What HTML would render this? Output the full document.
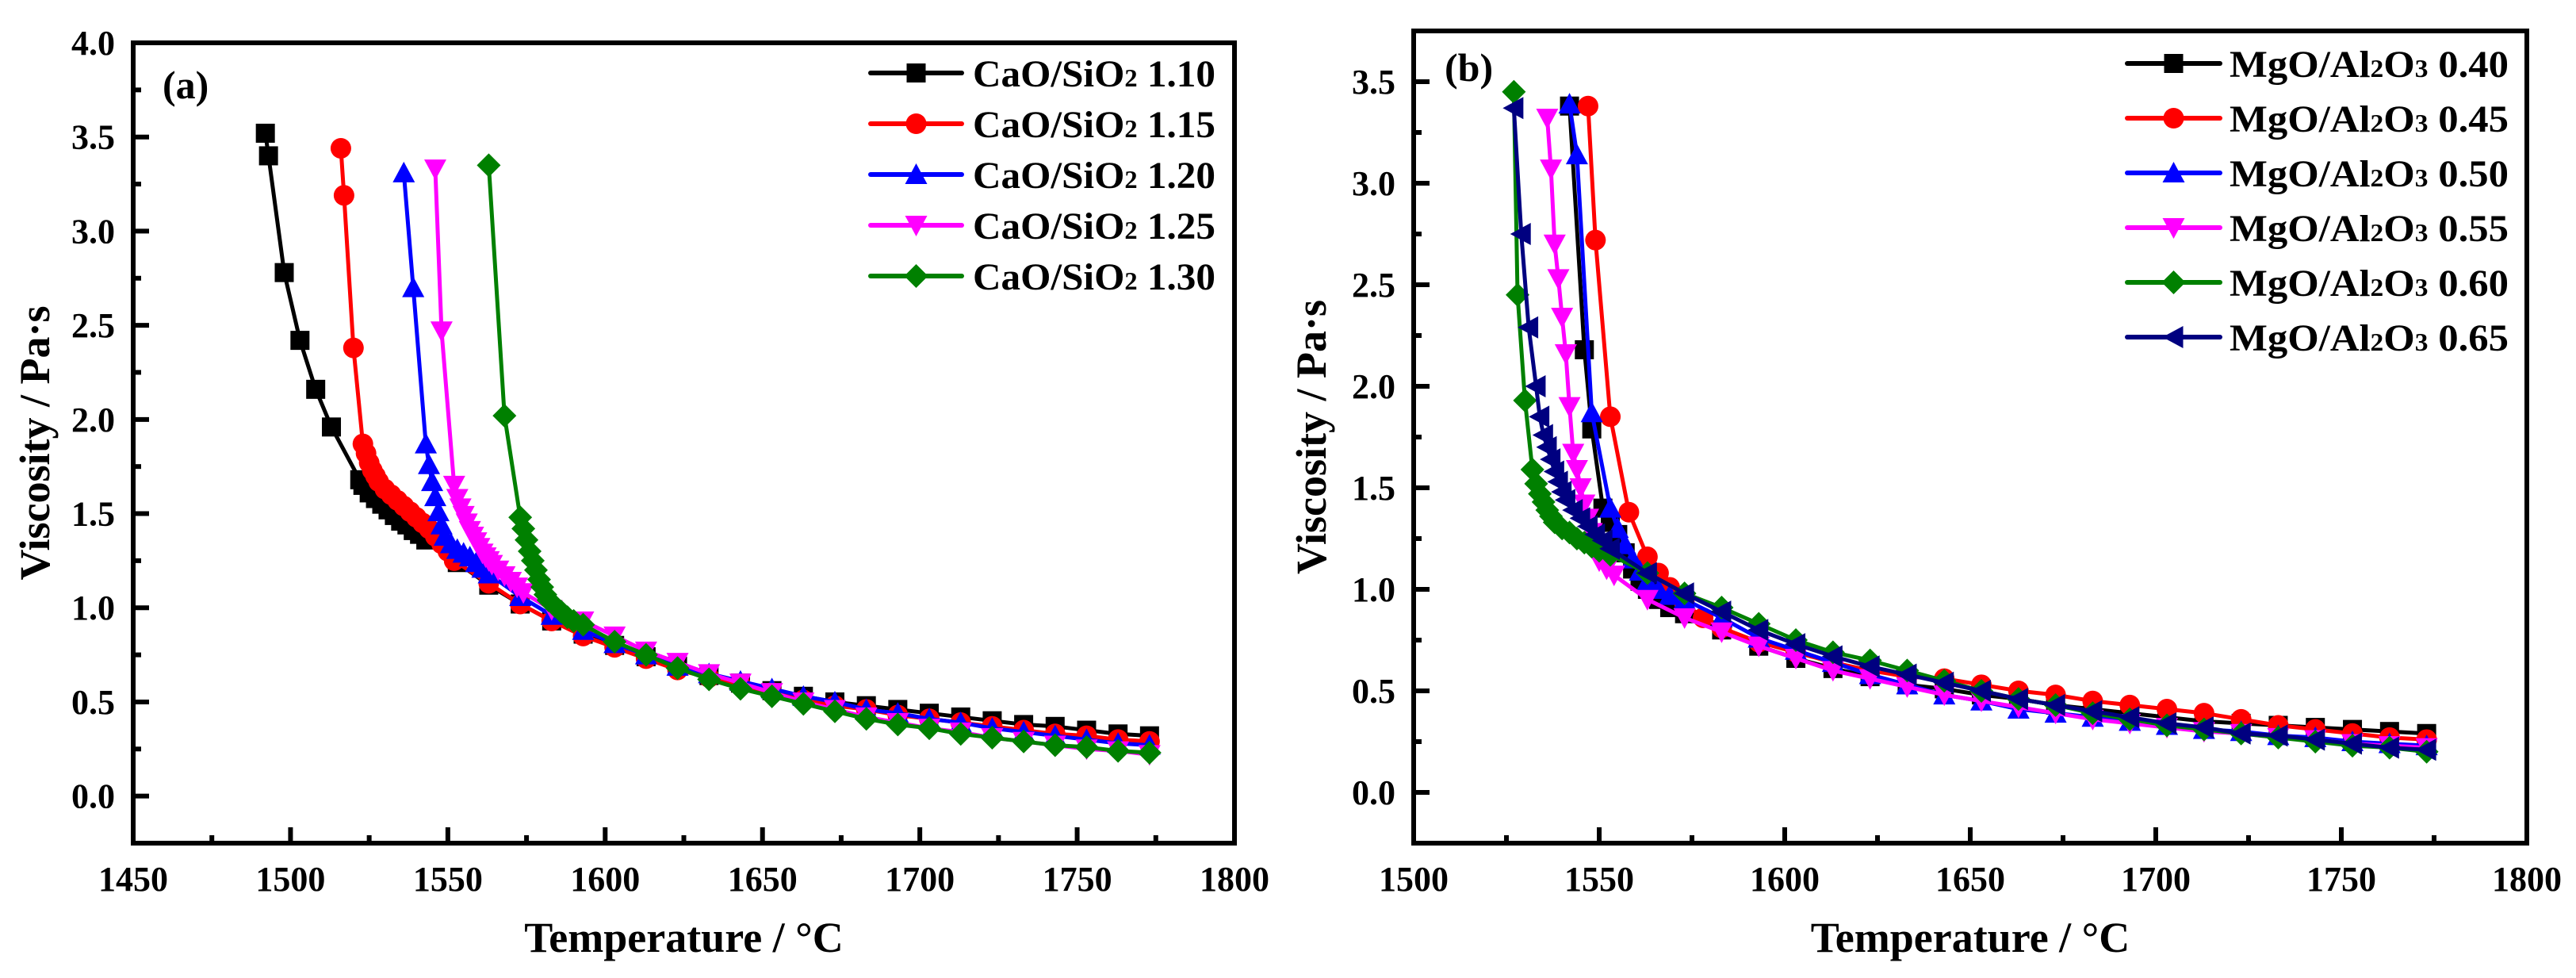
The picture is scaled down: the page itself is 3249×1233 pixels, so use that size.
<!DOCTYPE html>
<html><head><meta charset="utf-8"><style>
html,body{margin:0;padding:0;background:#fff;}
svg{display:block;font-family:"Liberation Serif",serif;font-weight:bold;}
</style></head><body>
<svg id="chart" width="3249" height="1233" viewBox="0 0 3249 1233" xmlns="http://www.w3.org/2000/svg"></svg>
<script>
// ---------- Panel (a) data: CaO/SiO2 ----------
const aLabels = ["CaO/SiO2 1.10","CaO/SiO2 1.15","CaO/SiO2 1.20","CaO/SiO2 1.25","CaO/SiO2 1.30"];
const aT110 = [1492,1493,1498,1503,1508,1513,1522,1523,1525,1527,1529,1531,1533,1535,1537,1539,1541,1543,1553,1563,1573,1583,1593,1603,1613,1623,1633,1643,1653,1663,1673,1683,1693,1703,1713,1723,1733,1743,1753,1763,1773];
const aV110 = [3.52,3.40,2.78,2.42,2.16,1.96,1.68,1.65,1.61,1.58,1.55,1.52,1.49,1.46,1.44,1.41,1.39,1.36,1.24,1.12,1.02,0.93,0.86,0.80,0.74,0.69,0.64,0.60,0.56,0.53,0.50,0.48,0.46,0.44,0.42,0.40,0.38,0.37,0.35,0.33,0.32];
const aT115 = [1516,1517,1520,1523,1524,1525,1526,1527,1528,1530,1532,1534,1536,1538,1540,1542,1544,1546,1548,1550,1552,1563,1573,1583,1593,1603,1613,1623,1633,1643,1653,1663,1673,1683,1693,1703,1713,1723,1733,1743,1753,1763,1773];
const aV115 = [3.44,3.19,2.38,1.87,1.82,1.77,1.73,1.70,1.67,1.63,1.60,1.57,1.54,1.51,1.48,1.45,1.42,1.38,1.34,1.30,1.25,1.13,1.02,0.93,0.85,0.79,0.73,0.67,0.63,0.59,0.55,0.51,0.48,0.46,0.43,0.41,0.39,0.37,0.35,0.33,0.32,0.30,0.29];
const aT120 = [1536,1539,1543,1544,1545,1546,1547,1548,1549,1551,1553,1555,1557,1559,1561,1563,1573,1583,1593,1603,1613,1623,1633,1643,1653,1663,1673,1683,1693,1703,1713,1723,1733,1743,1753,1763,1773];
const aV120 = [3.31,2.70,1.87,1.76,1.67,1.59,1.51,1.44,1.38,1.34,1.31,1.29,1.27,1.24,1.21,1.18,1.06,0.96,0.88,0.81,0.75,0.69,0.65,0.61,0.57,0.53,0.50,0.46,0.44,0.41,0.39,0.36,0.34,0.32,0.30,0.28,0.27];
const aT125 = [1546,1548,1552,1553,1554,1555,1556,1557,1558,1559,1560,1561,1562,1563,1564,1566,1568,1570,1572,1574,1583,1593,1603,1613,1623,1633,1643,1653,1663,1673,1683,1693,1703,1713,1723,1733,1743,1753,1763,1773];
const aV125 = [3.33,2.47,1.65,1.58,1.53,1.49,1.45,1.41,1.38,1.35,1.32,1.29,1.27,1.25,1.23,1.20,1.17,1.14,1.11,1.08,0.99,0.93,0.85,0.77,0.71,0.65,0.60,0.55,0.50,0.46,0.42,0.39,0.36,0.34,0.31,0.29,0.27,0.25,0.24,0.22];
const aT130 = [1563,1568,1573,1574,1575,1576,1577,1578,1579,1580,1581,1582,1584,1586,1588,1590,1593,1603,1613,1623,1633,1643,1653,1663,1673,1683,1693,1703,1713,1723,1733,1743,1753,1763,1773];
const aV130 = [3.35,2.02,1.48,1.42,1.36,1.30,1.25,1.20,1.15,1.11,1.07,1.04,1.01,0.98,0.95,0.93,0.91,0.82,0.75,0.68,0.62,0.57,0.53,0.49,0.45,0.41,0.38,0.36,0.33,0.31,0.29,0.27,0.26,0.24,0.23];

// ---------- Panel (b) data: MgO/Al2O3 ----------
const bLabels = ["MgO/Al2O3 0.40","MgO/Al2O3 0.45","MgO/Al2O3 0.50","MgO/Al2O3 0.55","MgO/Al2O3 0.60","MgO/Al2O3 0.65"];
const bT040 = [1542,1546,1548,1551,1553,1555,1557,1559,1561,1563,1566,1569,1573,1583,1593,1603,1613,1623,1633,1643,1653,1663,1673,1683,1693,1703,1713,1723,1733,1743,1753,1763,1773];
const bV040 = [3.38,2.18,1.79,1.40,1.33,1.27,1.18,1.10,1.04,1.00,0.95,0.91,0.88,0.80,0.72,0.66,0.61,0.57,0.53,0.51,0.48,0.46,0.43,0.41,0.39,0.37,0.35,0.34,0.33,0.32,0.31,0.30,0.29];
const bT045 = [1547,1549,1553,1558,1563,1566,1569,1573,1578,1583,1593,1603,1613,1623,1633,1643,1653,1663,1673,1683,1693,1703,1713,1723,1733,1743,1753,1763,1773];
const bV045 = [3.38,2.72,1.85,1.38,1.16,1.08,1.01,0.93,0.86,0.81,0.74,0.69,0.64,0.60,0.57,0.56,0.53,0.50,0.48,0.45,0.43,0.41,0.39,0.36,0.33,0.31,0.29,0.27,0.26];
const bT050 = [1542,1544,1548,1553,1555,1557,1559,1561,1563,1566,1569,1573,1583,1593,1603,1613,1623,1633,1643,1653,1663,1673,1683,1693,1703,1713,1723,1733,1743,1753,1763,1773];
const bV050 = [3.39,3.14,1.87,1.40,1.30,1.22,1.15,1.09,1.04,1.00,0.97,0.95,0.86,0.76,0.70,0.64,0.58,0.53,0.48,0.45,0.41,0.39,0.37,0.35,0.33,0.31,0.30,0.28,0.27,0.25,0.24,0.23];
const bT055 = [1536,1537,1538,1539,1540,1541,1542,1543,1544,1545,1546,1547,1548,1549,1550,1552,1554,1563,1573,1583,1593,1603,1613,1623,1633,1643,1653,1663,1673,1683,1693,1703,1713,1723,1733,1743,1753,1763,1773];
const bV055 = [3.32,3.07,2.70,2.53,2.34,2.16,1.90,1.67,1.59,1.50,1.42,1.35,1.28,1.20,1.14,1.10,1.07,0.95,0.86,0.79,0.72,0.66,0.60,0.56,0.52,0.48,0.45,0.42,0.39,0.36,0.34,0.32,0.30,0.29,0.27,0.26,0.24,0.23,0.22];
const bT060 = [1527,1528,1530,1532,1533,1534,1535,1536,1537,1538,1540,1542,1544,1546,1548,1550,1553,1563,1573,1583,1593,1603,1613,1623,1633,1643,1653,1663,1673,1683,1693,1703,1713,1723,1733,1743,1753,1763,1773];
const bV060 = [3.45,2.45,1.93,1.59,1.52,1.47,1.43,1.39,1.36,1.33,1.30,1.28,1.25,1.23,1.21,1.19,1.17,1.08,0.98,0.91,0.83,0.75,0.69,0.65,0.60,0.55,0.50,0.46,0.43,0.39,0.36,0.33,0.31,0.29,0.27,0.25,0.23,0.22,0.20];
const bT065 = [1527,1529,1531,1533,1534,1535,1536,1537,1538,1539,1540,1541,1543,1545,1547,1549,1551,1553,1563,1573,1583,1593,1603,1613,1623,1633,1643,1653,1663,1673,1683,1693,1703,1713,1723,1733,1743,1753,1763,1773];
const bV065 = [3.37,2.75,2.29,2.00,1.85,1.76,1.70,1.64,1.58,1.53,1.48,1.44,1.39,1.35,1.31,1.27,1.24,1.20,1.08,0.98,0.89,0.80,0.73,0.67,0.62,0.58,0.54,0.50,0.46,0.43,0.40,0.37,0.34,0.32,0.29,0.28,0.26,0.24,0.22,0.21];

const aXTicks = [1450,1500,1550,1600,1650,1700,1750,1800];
const aYTicks = [0.0,0.5,1.0,1.5,2.0,2.5,3.0,3.5,4.0];
const bXTicks = [1500,1550,1600,1650,1700,1750,1800];
const bYTicks = [0.0,0.5,1.0,1.5,2.0,2.5,3.0,3.5];

const colors = ["#000000","#ff0000","#0000ff","#ff00ff","#008000","#000080"];
const shapes = ["square","circle","up","down","diamond","left"];

const NS = "http://www.w3.org/2000/svg";
const svg = document.getElementById("chart");
function mk(tag, attrs, parent){
  const e = document.createElementNS(NS, tag);
  for (const k in attrs) e.setAttribute(k, attrs[k]);
  (parent||svg).appendChild(e);
  return e;
}

function marker(g, shape, x, y, color){
  const r = 12;
  let e;
  if (shape==="square") e = mk("rect",{x:x-r,y:y-r,width:2*r,height:2*r,fill:color},g);
  else if (shape==="circle") e = mk("circle",{cx:x,cy:y,r:r+1,fill:color},g);
  else if (shape==="up") e = mk("polygon",{points:`${x},${y-r-2} ${x-r-2},${y+r} ${x+r+2},${y+r}`,fill:color},g);
  else if (shape==="down") e = mk("polygon",{points:`${x},${y+r+2} ${x-r-2},${y-r} ${x+r+2},${y-r}`,fill:color},g);
  else if (shape==="diamond") e = mk("polygon",{points:`${x},${y-r-3} ${x+r+3},${y} ${x},${y+r+3} ${x-r-3},${y}`,fill:color},g);
  else e = mk("polygon",{points:`${x-r-2},${y} ${x+r},${y-r-2} ${x+r},${y+r+2}`,fill:color},g);
  
  
}

function labelText(parent, x, y, txt, size, len){
  const t = mk("text",{x:x,y:y,"font-size":size,fill:"#000",textLength:len,lengthAdjust:"spacingAndGlyphs"},parent);
  const parts = txt.split(" ");
  const formula = parts[0], val = parts[1];
  const re = /([A-Za-z\/]+)(\d?)/g;
  let mm;
  while ((mm = re.exec(formula)) !== null){
    if (!mm[0]) break;
    const s1 = mk("tspan",{},t); s1.textContent = mm[1];
    if (mm[2]){ const s2 = mk("tspan",{"font-size":size*0.66},t); s2.textContent = mm[2]; }
  }
  const s3 = mk("tspan",{},t); s3.textContent = " " + val;
  return t;
}

function panel(cfg){
  const g = mk("g",{});
  
  
  const X = v => cfg.x0 + (v - cfg.xmin)/(cfg.xmax - cfg.xmin)*(cfg.x1 - cfg.x0);
  const Y = v => cfg.y1 - (v - cfg.ymin)/(cfg.ymax - cfg.ymin)*(cfg.y1 - cfg.y0);

  cfg.series.forEach((s,i)=>{
    const sg = mk("g",{},g);
    
    
    const pts = s.t.map((t,j)=>X(t)+","+Y(s.v[j])).join(" ");
    const pl = mk("polyline",{points:pts,fill:"none",stroke:colors[i],"stroke-width":5,"stroke-linejoin":"round"},sg);
    
    
    s.t.forEach((t,j)=>marker(sg, shapes[i], X(t), Y(s.v[j]), colors[i]));
  });

  const fr = mk("rect",{x:cfg.x0,y:cfg.y0,width:cfg.x1-cfg.x0,height:cfg.y1-cfg.y0,fill:"none",stroke:"#000","stroke-width":6},g);
  
  

  const xt = mk("g",{},g);
  
  
  cfg.xTicks.forEach((v,k)=>{
    const x = X(v);
    if (k>0 && k<cfg.xTicks.length-1) mk("line",{x1:x,y1:cfg.y1,x2:x,y2:cfg.y1-20,stroke:"#000","stroke-width":6},xt);
    const mid = X(v+25);
    if (v+25 < cfg.xmax) mk("line",{x1:mid,y1:cfg.y1,x2:mid,y2:cfg.y1-10,stroke:"#000","stroke-width":6},xt);
    const tl = mk("text",{x:x,y:cfg.y1+60,"font-size":44,"text-anchor":"middle"},xt);
    
    
    tl.textContent = v;
  });
  const yt = mk("g",{},g);
  
  
  cfg.yTicks.forEach(v=>{
    const y = Y(v);
    if (v < cfg.ymax) mk("line",{x1:cfg.x0,y1:y,x2:cfg.x0+20,y2:y,stroke:"#000","stroke-width":6},yt);
    const m = Y(v+0.25);
    if (v+0.25 < cfg.ymax) mk("line",{x1:cfg.x0,y1:m,x2:cfg.x0+10,y2:m,stroke:"#000","stroke-width":6},yt);
    const tl = mk("text",{x:cfg.x0-23,y:y+15,"font-size":44,"text-anchor":"end"},yt);
    
    
    tl.textContent = v.toFixed(1);
  });

  const xtT = mk("text",{x:(cfg.x0+cfg.x1)/2,y:1200,"font-size":54,"text-anchor":"middle"},g);
  
  
  xtT.textContent = "Temperature / °C";
  const cy = (cfg.y0+cfg.y1)/2;
  const ytT = mk("text",{x:cfg.ytx,y:cy,"font-size":54,"text-anchor":"middle",transform:`rotate(-90 ${cfg.ytx} ${cy})`},g);
  
  
  ytT.textContent = "Viscosity / Pa·s";

  const pl = mk("text",{x:cfg.letterX,y:cfg.letterY,"font-size":50},g);
  
  
  pl.textContent = cfg.letter;

  const lg = mk("g",{},g);
  
  
  cfg.series.forEach((s,i)=>{
    const y = cfg.legY[0] + i*cfg.legStep;
    const eg = mk("g",{},lg);
    
    
    mk("line",{x1:cfg.legX,y1:y,x2:cfg.legX+cfg.legLineW,y2:y,stroke:colors[i],"stroke-width":6,"stroke-linecap":"round"},eg);
    marker(eg, shapes[i], cfg.legX+cfg.legLineW/2, y, colors[i]);
    labelText(eg, cfg.legTextX, y+17, s.label, 48, cfg.legTextW);
  });
}

panel({name:"panel-a-cao-sio2", x0:168, x1:1557, y0:54, y1:1063, xmin:1450, xmax:1800, ymin:-0.25, ymax:4.0,
  xTicks:aXTicks, yTicks:aYTicks, ytx:62, letter:"(a)", letterX:205, letterY:124,
  legX:1098, legLineW:115, legTextX:1227, legTextW:306, legY:[92], legStep:64,
  series:[{label:aLabels[0],t:aT110,v:aV110},{label:aLabels[1],t:aT115,v:aV115},{label:aLabels[2],t:aT120,v:aV120},{label:aLabels[3],t:aT125,v:aV125},{label:aLabels[4],t:aT130,v:aV130}]});

panel({name:"panel-b-mgo-al2o3", x0:1783, x1:3187, y0:39, y1:1063, xmin:1500, xmax:1800, ymin:-0.25, ymax:3.75,
  xTicks:bXTicks, yTicks:bYTicks, ytx:1672, letter:"(b)", letterX:1822, letterY:102,
  legX:2683, legLineW:117, legTextX:2812, legTextW:352, legY:[80], legStep:69,
  series:[{label:bLabels[0],t:bT040,v:bV040},{label:bLabels[1],t:bT045,v:bV045},{label:bLabels[2],t:bT050,v:bV050},{label:bLabels[3],t:bT055,v:bV055},{label:bLabels[4],t:bT060,v:bV060},{label:bLabels[5],t:bT065,v:bV065}]});
</script>
</body></html>
